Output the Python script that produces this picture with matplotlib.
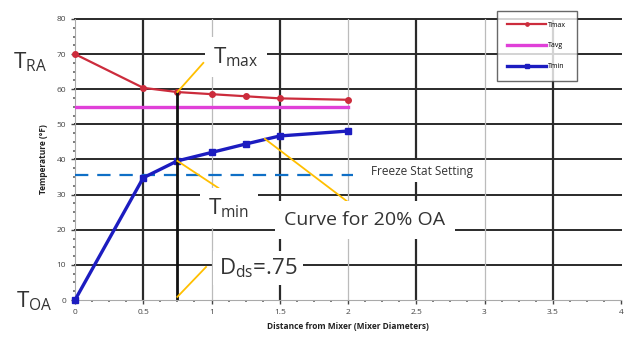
import numpy as np
import matplotlib
matplotlib.use('Agg')
import matplotlib.pyplot as plt

plt.rcParams['font.family'] = ['Open Sans', 'DejaVu Sans']
plt.rcParams['mathtext.fontset'] = 'custom'
plt.rcParams['mathtext.rm'] = 'Open Sans'
plt.rcParams['mathtext.it'] = 'Open Sans'

# data
dist = [0, 0.5, 0.75, 1.0, 1.25, 1.5, 2.0]
t_max = [70, 60.4, 59.2, 58.6, 58.0, 57.4, 57.0]
t_avg = [55, 55, 55, 55, 55, 55, 55]
t_min = [0, 34.8, 39.6, 42.0, 44.4, 46.7, 48.1]
freeze_stat = 35.5
d_ds = 0.75
series_names = ['Tmax', 'Tavg', 'Tmin']

x_ticks = [0, 0.5, 1, 1.5, 2, 2.5, 3, 3.5, 4]
x_tick_labels = ['0', '0.5', '1', '1.5', '2', '2.5', '3', '3.5', '4']
y_ticks = [0, 10, 20, 30, 40, 50, 60, 70, 80]

fig = plt.figure(figsize=(6.25, 3.39), dpi=100)
ax = fig.add_axes([0.12, 0.115, 0.8736, 0.829])
ax.set_xlim(0, 4)
ax.set_ylim(0, 80)

# grid: dark every 10 deg, vertical alternating thick / thin
for y in y_ticks[1:]:
    ax.axhline(y, color='#2a2a2a', lw=1.4, zorder=1, clip_on=False)
for x in x_ticks[1:-1]:
    if x % 1 == 0.5:
        ax.axvline(x, color='#2a2a2a', lw=1.6, zorder=1)
    else:
        ax.axvline(x, color='#bbbbbb', lw=0.9, zorder=1)

for s in ['left', 'bottom']:
    ax.spines[s].set_color('#aaaaaa')
    ax.spines[s].set_linewidth(0.8)
for s in ['top', 'right']:
    ax.spines[s].set_visible(False)

ax.set_xticks(x_ticks)
ax.set_xticklabels(x_tick_labels)
ax.set_yticks(y_ticks)
ax.set_xticks(np.arange(0, 4.01, 0.125), minor=True)
ax.set_yticks(np.arange(0, 80.1, 2.5), minor=True)
ax.tick_params(which='major', labelsize=6, colors='#444444', length=3, width=1)
ax.tick_params(which='minor', length=1.5, width=1.2, colors='#666666')
ax.set_xlabel('Distance from Mixer (Mixer Diameters)', fontsize=6,
              fontweight='bold', color='#222222', labelpad=4)
ax.set_ylabel('Temperature (°F)', fontsize=6, fontweight='bold',
              color='#222222', labelpad=6)

# freeze stat
ax.plot([0, 2.04], [freeze_stat, freeze_stat], color='#0f6fc6', lw=1.6,
        dashes=(6, 4), zorder=3)

# series
l1, = ax.plot(dist, t_max, color='#cc2c3c', lw=1.6, marker='o', ms=4,
              zorder=4, clip_on=False, label=series_names[0])
l2, = ax.plot(dist, t_avg, color='#e040d8', lw=2.4, zorder=4,
              label=series_names[1])
l3, = ax.plot(dist, t_min, color='#1c1cc0', lw=2.4, marker='s', ms=5,
              zorder=5, clip_on=False, label=series_names[2])

# D_ds line
ax.vlines(d_ds, 0, t_max[2], color='#111111', lw=2, zorder=6)

leg = ax.legend(handles=[l1, l2, l3], loc='upper left',
                bbox_to_anchor=(0.773, 1.028), fontsize=5, frameon=True,
                fancybox=False, handlelength=5.5, handletextpad=0.4,
                labelspacing=2.0, borderpad=1.5, borderaxespad=0,
                markerscale=0.6)
leg.get_frame().set_edgecolor('#444444')
leg.get_frame().set_linewidth(1.0)
leg.set_zorder(7)

# callout lines
orange = '#ffbf00'
ax.plot([0.75, 0.94], [t_max[2], 67.5], color=orange, lw=1.3, zorder=7)
ax.plot([0.75, 1.05], [t_min[2], 31.9], color=orange, lw=1.3, zorder=7)
ax.plot([1.39, 2.01], [45.9, 27.6], color=orange, lw=1.3, zorder=7)
ax.plot([0.75, 0.96], [0.9, 9.4], color=orange, lw=1.3, zorder=7)
ax.plot([2.01], [27.6], 's', color='black', ms=2, zorder=8)


def ftxt(px, py, s, size, pad=None):
    kw = {}
    if pad is not None:
        kw['bbox'] = dict(facecolor='white', edgecolor='none', pad=pad)
    fig.text(px / 625, 1 - py / 339, s, fontsize=size, ha='center',
             va='center', color='#333333', zorder=9, **kw)


ftxt(30, 62, r'$\mathrm{T_{RA}}$', 16)
ftxt(34, 301, r'$\mathrm{T_{OA}}$', 16)
ftxt(236, 57, r'$\mathrm{T_{max}}$', 16, pad=6)
ftxt(229, 208, r'$\mathrm{T_{min}}$', 16, pad=6)
ftxt(365, 220, 'Curve for 20% OA', 14, pad=7)
ftxt(258, 268, r'$\mathrm{D_{ds}}$=.75', 16, pad=4)
ftxt(422, 171, 'Freeze Stat Setting', 8.5, pad=3)

fig.savefig('out.png', dpi=100, facecolor='white')
